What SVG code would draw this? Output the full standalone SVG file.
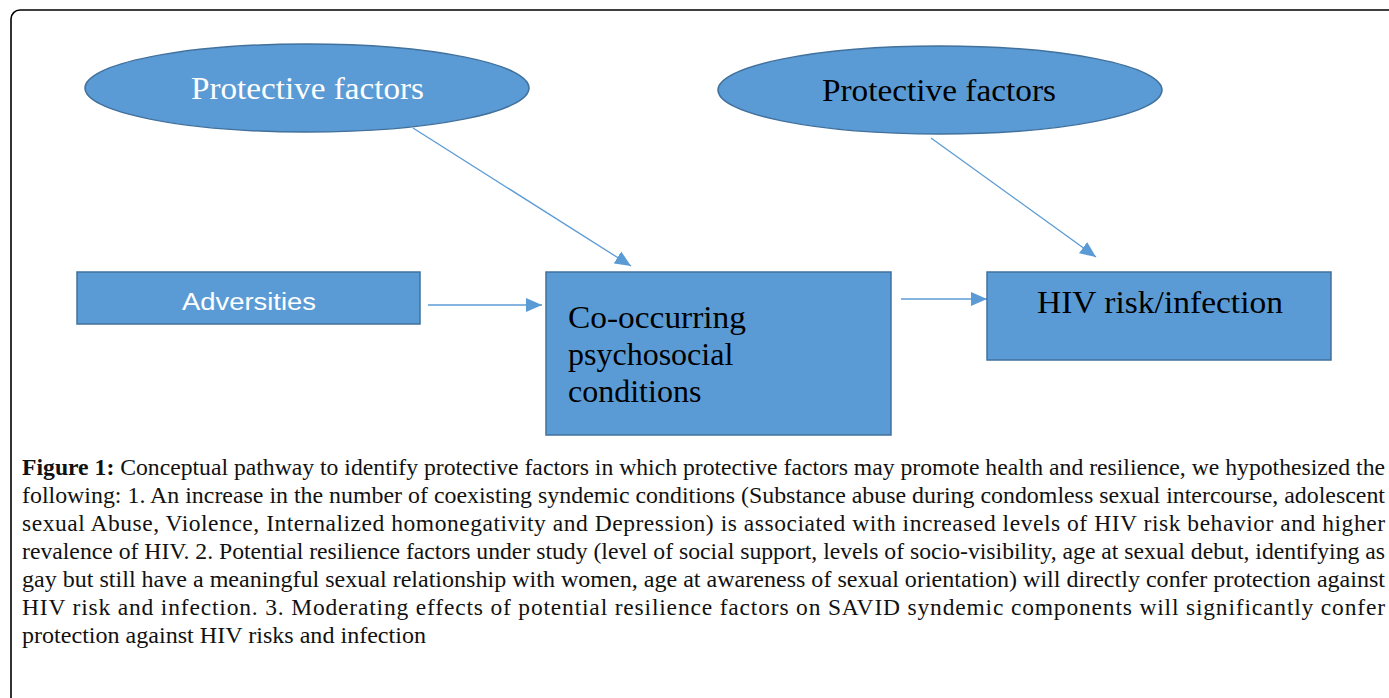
<svg xmlns="http://www.w3.org/2000/svg" width="1389" height="698" viewBox="0 0 1389 698">
<style>
.node{fill:#5B9BD5;stroke:#41719C;stroke-width:1.5}
.serif{font-family:"Liberation Serif","Times New Roman",serif}
.sans{font-family:"Liberation Sans",Arial,sans-serif}
.conn{stroke:#5B9BD5;stroke-width:1.3;fill:none;marker-end:url(#ah)}
.cap{font-family:"Liberation Serif","Times New Roman",serif;font-size:23.5px;fill:#111}
</style>
<defs>
<marker id="ah" markerUnits="userSpaceOnUse" markerWidth="16" markerHeight="16" viewBox="0 0 16 16" refX="16" refY="8" orient="auto">
<path d="M0,1 L16,8 L0,15 Z" fill="#5B9BD5"/>
</marker>
</defs>
<rect x="11" y="10" width="1420" height="740" rx="9" fill="#fff" stroke="#000" stroke-width="1.6"/>
<g id="connectors">
<line class="conn" x1="413" y1="128" x2="631" y2="266"/>
<line class="conn" x1="931" y1="138" x2="1096" y2="257"/>
<line class="conn" x1="428" y1="305" x2="542" y2="305"/>
<line class="conn" x1="901" y1="299" x2="987" y2="299"/>
</g>
<g id="protective1">
<ellipse class="node" cx="307" cy="88" rx="222" ry="44"/>
<text class="serif" x="191" y="99" font-size="31" fill="#fff" textLength="233" lengthAdjust="spacingAndGlyphs">Protective factors</text>
</g>
<g id="protective2">
<ellipse class="node" cx="940" cy="90" rx="222" ry="44"/>
<text class="serif" x="822" y="101" font-size="31" fill="#000" textLength="234" lengthAdjust="spacingAndGlyphs">Protective factors</text>
</g>
<g id="adversities">
<rect class="node" x="77" y="272" width="343" height="52"/>
<text class="sans" x="182" y="310" font-size="23" fill="#fff" textLength="134" lengthAdjust="spacingAndGlyphs">Adversities</text>
</g>
<g id="cooccurring">
<rect class="node" x="546" y="272" width="345" height="163"/>
<text class="serif" font-size="32" fill="#000">
<tspan x="568" y="328" textLength="178" lengthAdjust="spacingAndGlyphs">Co-occurring</tspan>
<tspan x="568" y="365">psychosocial</tspan>
<tspan x="568" y="402">conditions</tspan>
</text>
</g>
<g id="hiv">
<rect class="node" x="987" y="272" width="344" height="88"/>
<text class="serif" x="1037" y="313" font-size="32" fill="#000" textLength="246" lengthAdjust="spacingAndGlyphs">HIV risk/infection</text>
</g>
<g id="caption" class="cap">
<text x="22" y="475" textLength="1363" lengthAdjust="spacingAndGlyphs"><tspan font-weight="bold">Figure 1:</tspan> Conceptual pathway to identify protective factors in which protective factors may promote health and resilience, we hypothesized the</text>
<text x="22" y="503" textLength="1363" lengthAdjust="spacingAndGlyphs">following: 1.  An increase in the number of coexisting syndemic conditions (Substance abuse during condomless sexual intercourse, adolescent</text>
<text x="22" y="531" textLength="1363" lengthAdjust="spacing">sexual Abuse, Violence, Internalized homonegativity and Depression) is associated with increased levels of HIV risk behavior and higher</text>
<text x="22" y="559" textLength="1363" lengthAdjust="spacingAndGlyphs">revalence of HIV. 2. Potential resilience factors under study (level of social support, levels of socio-visibility, age at sexual debut, identifying as</text>
<text x="22" y="587" textLength="1363" lengthAdjust="spacingAndGlyphs">gay but still have a meaningful sexual relationship with women, age at awareness of sexual orientation) will directly confer protection against</text>
<text x="22" y="615" textLength="1363" lengthAdjust="spacing">HIV risk and infection. 3. Moderating effects of potential resilience factors on SAVID syndemic components will significantly confer</text>
<text x="22" y="643" textLength="404" lengthAdjust="spacingAndGlyphs">protection against HIV risks and infection</text>
</g>
</svg>
